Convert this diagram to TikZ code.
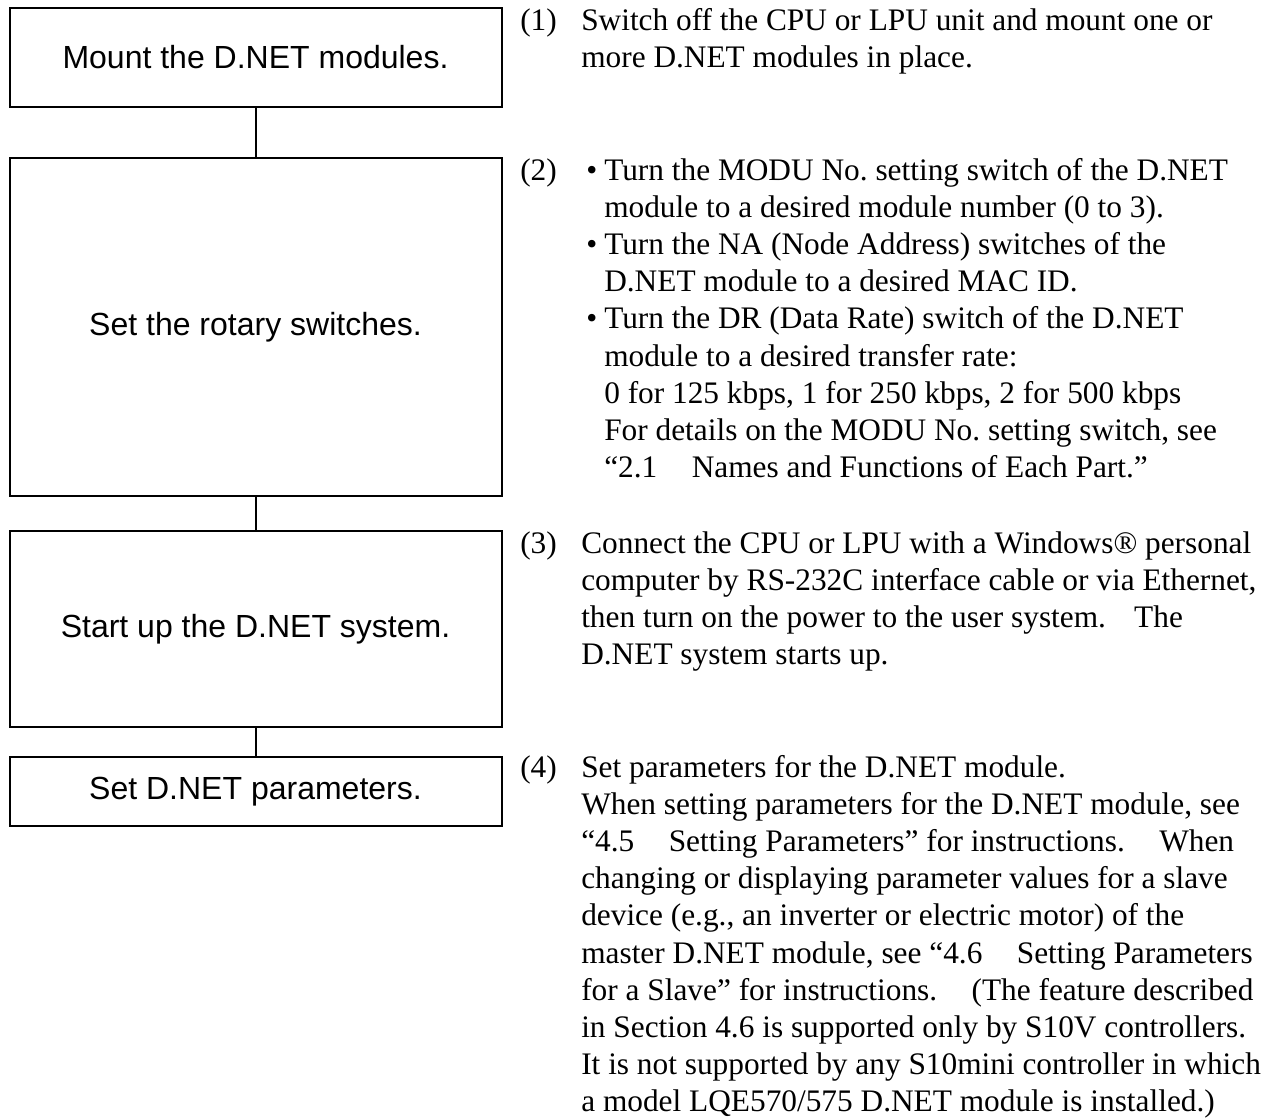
\documentclass[tikz,border=0pt]{standalone}
\usepackage{fontspec}
\setmainfont{Liberation Serif}
\newfontfamily\boxfont{Liberation Sans}
\frenchspacing
\begin{document}
\frenchspacing
\begin{tikzpicture}[x=0.75pt,y=-0.75pt,
  box/.style={draw, line width=1.5pt, minimum width=369pt, inner sep=0pt, align=center,
    font=\boxfont\fontsize{24pt}{28pt}\selectfont},
  ln/.style={anchor=base west, inner sep=0pt, font=\fontsize{23.5pt}{28pt}\selectfont\frenchspacing},
  link/.style={line width=1.5pt}]
\useasboundingbox (0,0) rectangle (1287,1117);
% flow boxes
\node[box, minimum height=73.8pt]  (b1) at (255.5,57.5) {Mount the D.NET modules.};
\node[box, minimum height=253.5pt] (b2) at (255.5,327)  {Set the rotary switches.};
\node[box, minimum height=147pt]   (b3) at (255.5,629)  {Start up the D.NET system.};
\node[box, minimum height=51.75pt] (b4) at (255.5,791.5)  {Set D.NET parameters.};
\draw[link] (b1.south) -- (b2.north);
\draw[link] (b2.south) -- (b3.north);
\draw[link] (b3.south) -- (b4.north);
% step (1)
\node[ln] (n1) at (520,30) {(1)};
\node[ln] (t1a) at (581,30) {Switch off the CPU or LPU unit and mount one or};
\node[ln] (t1b) at (581,67.2) {more D.NET modules in place.};
% step (2)
\node[ln] (n2) at (520,180) {(2)};
\node[ln] (u2a) at (586,180) {•};
\node[ln] (t2a) at (604,180) {Turn the MODU No. setting switch of the D.NET};
\node[ln] (t2b) at (604,217.2) {module to a desired module number (0 to 3).};
\node[ln] (u2b) at (586,254.4) {•};
\node[ln] (t2c) at (604,254.4) {Turn the NA (Node Address) switches of the};
\node[ln] (t2d) at (604,291.6) {D.NET module to a desired MAC ID.};
\node[ln] (u2c) at (586,328.8) {•};
\node[ln] (t2e) at (604,328.8) {Turn the DR (Data Rate) switch of the D.NET};
\node[ln] (t2f) at (604,366) {module to a desired transfer rate:};
\node[ln] (t2g) at (604,403.2) {0 for 125 kbps, 1 for 250 kbps, 2 for 500 kbps};
\node[ln] (t2h) at (604,440.4) {For details on the MODU No. setting switch, see};
\node[ln] (t2i) at (604,477.6) {“2.1\hspace{1.1em}Names and Functions of Each Part.”};
% step (3)
\node[ln] (n3) at (520,553) {(3)};
\node[ln] (t3a) at (581,553) {Connect the CPU or LPU with a Windows® personal};
\node[ln] (t3b) at (581,590.2) {computer by RS-232C interface cable or via Ethernet,};
\node[ln] (t3c) at (581,627.4) {then turn on the power to the user system.\hspace{0.9em}The};
\node[ln] (t3d) at (581,664.6) {D.NET system starts up.};
% step (4)
\node[ln] (n4) at (520,777) {(4)};
\node[ln] (t4a) at (581,777) {Set parameters for the D.NET module.};
\node[ln] (t4b) at (581,814.2) {When setting parameters for the D.NET module, see};
\node[ln] (t4c) at (581,851.4) {“4.5\hspace{1.1em}Setting Parameters” for instructions.\hspace{1.1em}When};
\node[ln] (t4d) at (581,888.6) {changing or displaying parameter values for a slave};
\node[ln] (t4e) at (581,925.8) {device (e.g., an inverter or electric motor) of the};
\node[ln] (t4f) at (581,963) {master D.NET module, see “4.6\hspace{1.1em}Setting Parameters};
\node[ln] (t4g) at (581,1000.2) {for a Slave” for instructions.\hspace{1.1em}(The feature described};
\node[ln] (t4h) at (581,1037.4) {in Section 4.6 is supported only by S10V controllers.};
\node[ln] (t4i) at (581,1074.6) {It is not supported by any S10mini controller in which};
\node[ln] (t4j) at (581,1111.8) {a model LQE570/575 D.NET module is installed.)};
\end{tikzpicture}
\end{document}
